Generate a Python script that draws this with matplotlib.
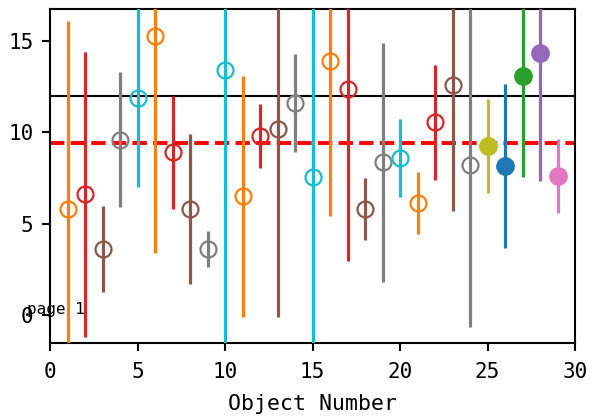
import matplotlib
matplotlib.use("Agg")
import matplotlib.pyplot as plt

# data
obj = list(range(1, 30))
values = [5.8, 6.6, 3.6, 9.6, 11.9, 15.3, 8.9, 5.8, 3.6, 13.4,
          6.5, 9.8, 10.2, 11.6, 7.55, 13.9, 12.4, 5.8, 8.35, 8.6,
          6.15, 10.55, 12.6, 8.2, 9.25, 8.15, 13.1, 14.35, 7.6]
errors = [10.3, 7.8, 2.35, 3.7, 4.9, 11.9, 3.1, 4.1, 1.0, 15.5,
          6.6, 1.75, 10.3, 2.7, 10.0, 8.5, 9.45, 1.7, 6.55, 2.15,
          1.7, 3.15, 6.9, 8.85, 2.6, 4.5, 5.55, 7.0, 2.05]
filled = [False] * 24 + [True] * 5
colors = (["C1", "C3", "C5", "C7", "C9"] * 5)[:24] + ["C8", "C0", "C2", "C4", "C6"]
ref_line = 12.0
mean_line = 9.4
xlim = (0, 30)
ylim = (-1.55, 16.75)
xticks = [0, 5, 10, 15, 20, 25, 30]
yticks = [0, 5, 10, 15]

plt.rcParams['font.family'] = ['DejaVu Sans Mono']

fig = plt.figure(figsize=(5.96, 4.17), dpi=100)
ax = fig.add_axes([0.0839, 0.1775, 0.8809, 0.8005])

for x, v, e, f, c in zip(obj, values, errors, filled, colors):
    if f:
        ax.errorbar(x, v, yerr=e, fmt='o', color=c, ms=12.5, elinewidth=2.3,
                    capsize=0, zorder=3)
    else:
        ax.errorbar(x, v, yerr=e, fmt='o', color=c, mfc='none', mec=c, mew=1.6,
                    ms=11.5, elinewidth=2.3, capsize=0, zorder=3)

ax.axhline(ref_line, color='black', lw=1.5, zorder=2)
ax.axhline(mean_line, color='red', lw=2.8, ls='--', zorder=2)

ax.set_xlim(*xlim)
ax.set_ylim(*ylim)
ax.set_xticks(xticks)
ax.set_yticks(yticks)
ax.tick_params(labelsize=15, width=1.5, length=6)
ax.tick_params(axis='x', pad=8)
ax.tick_params(axis='y', pad=6)
for s in ax.spines.values():
    s.set_linewidth(1.5)
ax.set_xlabel('Object Number', fontsize=15.5, labelpad=8)

fig.text(27 / 596, 1 - 314 / 417, 'page 1', fontsize=11.5)

fig.savefig('out.png', dpi=100)
